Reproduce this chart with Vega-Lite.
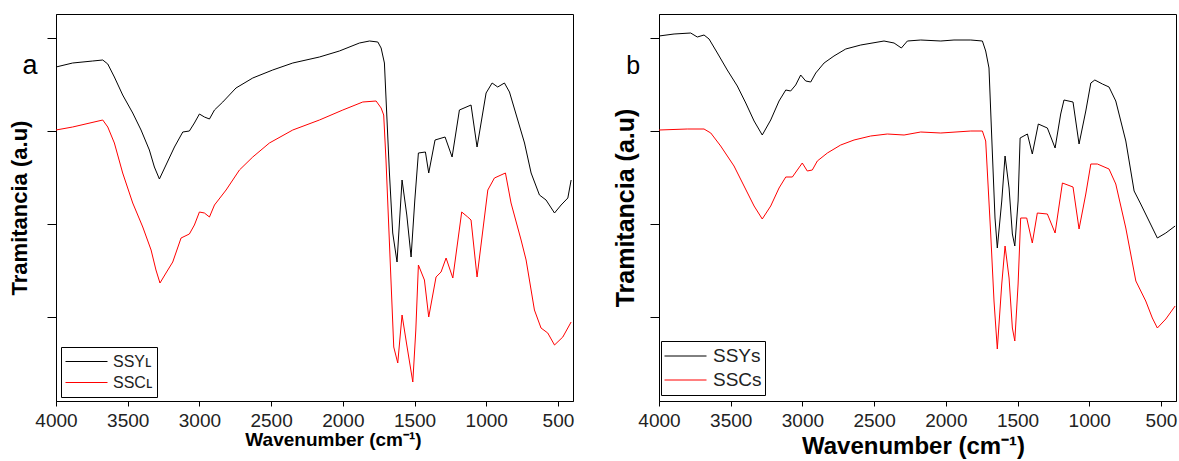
{
  "$schema": "https://vega.github.io/schema/vega-lite/v6.json",
  "padding": {"left": 8, "top": 13, "right": 0, "bottom": 0},
  "spacing": 38,
  "config": {
    "font": "Liberation Sans",
    "view": {"stroke": "black", "strokeWidth": 1},
    "axis": {"grid": false, "domainColor": "black", "tickColor": "black", "labelFont": "Liberation Sans", "titleFont": "Liberation Sans", "titleFontWeight": "bold", "titleColor": "black", "labelColor": "#222222"}
  },
  "datasets": {
    "a": [
      {"w":4000,"t":334,"s":"SSYʟ"},{"w":3884,"t":338,"s":"SSYʟ"},{"w":3744,"t":340,"s":"SSYʟ"},{"w":3674,"t":341,"s":"SSYʟ"},{"w":3639,"t":337,"s":"SSYʟ"},{"w":3593,"t":324,"s":"SSYʟ"},{"w":3535,"t":306,"s":"SSYʟ"},{"w":3465,"t":288,"s":"SSYʟ"},{"w":3407,"t":271,"s":"SSYʟ"},{"w":3349,"t":251,"s":"SSYʟ"},{"w":3314,"t":234,"s":"SSYʟ"},{"w":3279,"t":222,"s":"SSYʟ"},{"w":3233,"t":236,"s":"SSYʟ"},{"w":3174,"t":254,"s":"SSYʟ"},{"w":3116,"t":269,"s":"SSYʟ"},{"w":3070,"t":270,"s":"SSYʟ"},{"w":3035,"t":278,"s":"SSYʟ"},{"w":3000,"t":287,"s":"SSYʟ"},{"w":2965,"t":284,"s":"SSYʟ"},{"w":2930,"t":282,"s":"SSYʟ"},{"w":2895,"t":291,"s":"SSYʟ"},{"w":2837,"t":299,"s":"SSYʟ"},{"w":2745,"t":313,"s":"SSYʟ"},{"w":2628,"t":323,"s":"SSYʟ"},{"w":2489,"t":331,"s":"SSYʟ"},{"w":2349,"t":338,"s":"SSYʟ"},{"w":2163,"t":344,"s":"SSYʟ"},{"w":2024,"t":350,"s":"SSYʟ"},{"w":1884,"t":358,"s":"SSYʟ"},{"w":1814,"t":360,"s":"SSYʟ"},{"w":1756,"t":359,"s":"SSYʟ"},{"w":1733,"t":353,"s":"SSYʟ"},{"w":1710,"t":338,"s":"SSYʟ"},{"w":1675,"t":228,"s":"SSYʟ"},{"w":1652,"t":168,"s":"SSYʟ"},{"w":1622,"t":139,"s":"SSYʟ"},{"w":1587,"t":221,"s":"SSYʟ"},{"w":1554,"t":186,"s":"SSYʟ"},{"w":1524,"t":144,"s":"SSYʟ"},{"w":1498,"t":201,"s":"SSYʟ"},{"w":1473,"t":248,"s":"SSYʟ"},{"w":1424,"t":249,"s":"SSYʟ"},{"w":1401,"t":228,"s":"SSYʟ"},{"w":1357,"t":261,"s":"SSYʟ"},{"w":1287,"t":264,"s":"SSYʟ"},{"w":1238,"t":244,"s":"SSYʟ"},{"w":1187,"t":291,"s":"SSYʟ"},{"w":1106,"t":296,"s":"SSYʟ"},{"w":1064,"t":254,"s":"SSYʟ"},{"w":1001,"t":308,"s":"SSYʟ"},{"w":959,"t":318,"s":"SSYʟ"},{"w":920,"t":314,"s":"SSYʟ"},{"w":873,"t":318,"s":"SSYʟ"},{"w":838,"t":309,"s":"SSYʟ"},{"w":733,"t":258,"s":"SSYʟ"},{"w":687,"t":228,"s":"SSYʟ"},{"w":629,"t":206,"s":"SSYʟ"},{"w":583,"t":201,"s":"SSYʟ"},{"w":524,"t":188,"s":"SSYʟ"},{"w":478,"t":196,"s":"SSYʟ"},{"w":431,"t":203,"s":"SSYʟ"},{"w":408,"t":221,"s":"SSYʟ"},
      {"w":4000,"t":271,"s":"SSCʟ"},{"w":3884,"t":274,"s":"SSCʟ"},{"w":3674,"t":281,"s":"SSCʟ"},{"w":3639,"t":274,"s":"SSCʟ"},{"w":3593,"t":258,"s":"SSCʟ"},{"w":3535,"t":228,"s":"SSCʟ"},{"w":3465,"t":198,"s":"SSCʟ"},{"w":3395,"t":174,"s":"SSCʟ"},{"w":3337,"t":151,"s":"SSCʟ"},{"w":3303,"t":131,"s":"SSCʟ"},{"w":3275,"t":118,"s":"SSCʟ"},{"w":3233,"t":128,"s":"SSCʟ"},{"w":3186,"t":139,"s":"SSCʟ"},{"w":3128,"t":163,"s":"SSCʟ"},{"w":3070,"t":167,"s":"SSCʟ"},{"w":3035,"t":176,"s":"SSCʟ"},{"w":3000,"t":189,"s":"SSCʟ"},{"w":2965,"t":188,"s":"SSCʟ"},{"w":2930,"t":184,"s":"SSCʟ"},{"w":2895,"t":196,"s":"SSCʟ"},{"w":2814,"t":211,"s":"SSCʟ"},{"w":2721,"t":231,"s":"SSCʟ"},{"w":2628,"t":244,"s":"SSCʟ"},{"w":2512,"t":258,"s":"SSCʟ"},{"w":2349,"t":271,"s":"SSCʟ"},{"w":2163,"t":281,"s":"SSCʟ"},{"w":2000,"t":291,"s":"SSCʟ"},{"w":1861,"t":299,"s":"SSCʟ"},{"w":1768,"t":300,"s":"SSCʟ"},{"w":1733,"t":293,"s":"SSCʟ"},{"w":1715,"t":286,"s":"SSCʟ"},{"w":1699,"t":241,"s":"SSCʟ"},{"w":1668,"t":134,"s":"SSCʟ"},{"w":1645,"t":54,"s":"SSCʟ"},{"w":1617,"t":38,"s":"SSCʟ"},{"w":1587,"t":86,"s":"SSCʟ"},{"w":1554,"t":56,"s":"SSCʟ"},{"w":1512,"t":19,"s":"SSCʟ"},{"w":1491,"t":71,"s":"SSCʟ"},{"w":1473,"t":136,"s":"SSCʟ"},{"w":1431,"t":121,"s":"SSCʟ"},{"w":1401,"t":84,"s":"SSCʟ"},{"w":1350,"t":124,"s":"SSCʟ"},{"w":1315,"t":129,"s":"SSCʟ"},{"w":1280,"t":143,"s":"SSCʟ"},{"w":1233,"t":123,"s":"SSCʟ"},{"w":1171,"t":189,"s":"SSCʟ"},{"w":1129,"t":184,"s":"SSCʟ"},{"w":1106,"t":181,"s":"SSCʟ"},{"w":1064,"t":124,"s":"SSCʟ"},{"w":989,"t":211,"s":"SSCʟ"},{"w":943,"t":223,"s":"SSCʟ"},{"w":866,"t":228,"s":"SSCʟ"},{"w":827,"t":198,"s":"SSCʟ"},{"w":757,"t":161,"s":"SSCʟ"},{"w":722,"t":141,"s":"SSCʟ"},{"w":664,"t":91,"s":"SSCʟ"},{"w":618,"t":73,"s":"SSCʟ"},{"w":571,"t":68,"s":"SSCʟ"},{"w":524,"t":56,"s":"SSCʟ"},{"w":466,"t":64,"s":"SSCʟ"},{"w":408,"t":79,"s":"SSCʟ"}
    ],
    "b": [
      {"w":4000,"t":365,"s":"SSYs"},{"w":3895,"t":367,"s":"SSYs"},{"w":3779,"t":368,"s":"SSYs"},{"w":3733,"t":364,"s":"SSYs"},{"w":3686,"t":366,"s":"SSYs"},{"w":3651,"t":362,"s":"SSYs"},{"w":3593,"t":348,"s":"SSYs"},{"w":3524,"t":331,"s":"SSYs"},{"w":3454,"t":315,"s":"SSYs"},{"w":3395,"t":298,"s":"SSYs"},{"w":3337,"t":280,"s":"SSYs"},{"w":3280,"t":266,"s":"SSYs"},{"w":3221,"t":281,"s":"SSYs"},{"w":3163,"t":300,"s":"SSYs"},{"w":3116,"t":311,"s":"SSYs"},{"w":3082,"t":310,"s":"SSYs"},{"w":3047,"t":316,"s":"SSYs"},{"w":3012,"t":326,"s":"SSYs"},{"w":2977,"t":320,"s":"SSYs"},{"w":2942,"t":319,"s":"SSYs"},{"w":2907,"t":328,"s":"SSYs"},{"w":2849,"t":338,"s":"SSYs"},{"w":2780,"t":345,"s":"SSYs"},{"w":2698,"t":352,"s":"SSYs"},{"w":2593,"t":356,"s":"SSYs"},{"w":2431,"t":360,"s":"SSYs"},{"w":2361,"t":358,"s":"SSYs"},{"w":2310,"t":353,"s":"SSYs"},{"w":2268,"t":360,"s":"SSYs"},{"w":2175,"t":361,"s":"SSYs"},{"w":2035,"t":360,"s":"SSYs"},{"w":1943,"t":361,"s":"SSYs"},{"w":1826,"t":361,"s":"SSYs"},{"w":1745,"t":360,"s":"SSYs"},{"w":1722,"t":350,"s":"SSYs"},{"w":1699,"t":333,"s":"SSYs"},{"w":1676,"t":250,"s":"SSYs"},{"w":1657,"t":183,"s":"SSYs"},{"w":1641,"t":153,"s":"SSYs"},{"w":1610,"t":200,"s":"SSYs"},{"w":1587,"t":245,"s":"SSYs"},{"w":1559,"t":213,"s":"SSYs"},{"w":1536,"t":167,"s":"SSYs"},{"w":1519,"t":155,"s":"SSYs"},{"w":1496,"t":200,"s":"SSYs"},{"w":1482,"t":263,"s":"SSYs"},{"w":1431,"t":267,"s":"SSYs"},{"w":1397,"t":247,"s":"SSYs"},{"w":1355,"t":277,"s":"SSYs"},{"w":1292,"t":273,"s":"SSYs"},{"w":1238,"t":253,"s":"SSYs"},{"w":1199,"t":287,"s":"SSYs"},{"w":1176,"t":301,"s":"SSYs"},{"w":1113,"t":299,"s":"SSYs"},{"w":1071,"t":257,"s":"SSYs"},{"w":1024,"t":290,"s":"SSYs"},{"w":989,"t":318,"s":"SSYs"},{"w":961,"t":321,"s":"SSYs"},{"w":908,"t":317,"s":"SSYs"},{"w":862,"t":314,"s":"SSYs"},{"w":815,"t":300,"s":"SSYs"},{"w":745,"t":260,"s":"SSYs"},{"w":687,"t":210,"s":"SSYs"},{"w":641,"t":197,"s":"SSYs"},{"w":583,"t":180,"s":"SSYs"},{"w":525,"t":163,"s":"SSYs"},{"w":466,"t":168,"s":"SSYs"},{"w":401,"t":175,"s":"SSYs"},
      {"w":4000,"t":271,"s":"SSCs"},{"w":3803,"t":272,"s":"SSCs"},{"w":3686,"t":272,"s":"SSCs"},{"w":3639,"t":268,"s":"SSCs"},{"w":3570,"t":255,"s":"SSCs"},{"w":3477,"t":235,"s":"SSCs"},{"w":3407,"t":215,"s":"SSCs"},{"w":3337,"t":195,"s":"SSCs"},{"w":3280,"t":182,"s":"SSCs"},{"w":3221,"t":195,"s":"SSCs"},{"w":3163,"t":213,"s":"SSCs"},{"w":3116,"t":224,"s":"SSCs"},{"w":3070,"t":224,"s":"SSCs"},{"w":3001,"t":238,"s":"SSCs"},{"w":2966,"t":230,"s":"SSCs"},{"w":2931,"t":231,"s":"SSCs"},{"w":2896,"t":240,"s":"SSCs"},{"w":2826,"t":248,"s":"SSCs"},{"w":2733,"t":256,"s":"SSCs"},{"w":2640,"t":261,"s":"SSCs"},{"w":2524,"t":265,"s":"SSCs"},{"w":2408,"t":267,"s":"SSCs"},{"w":2291,"t":266,"s":"SSCs"},{"w":2175,"t":269,"s":"SSCs"},{"w":2035,"t":268,"s":"SSCs"},{"w":1826,"t":270,"s":"SSCs"},{"w":1745,"t":270,"s":"SSCs"},{"w":1722,"t":260,"s":"SSCs"},{"w":1687,"t":167,"s":"SSCs"},{"w":1664,"t":100,"s":"SSCs"},{"w":1641,"t":52,"s":"SSCs"},{"w":1610,"t":117,"s":"SSCs"},{"w":1587,"t":155,"s":"SSCs"},{"w":1559,"t":123,"s":"SSCs"},{"w":1536,"t":73,"s":"SSCs"},{"w":1519,"t":60,"s":"SSCs"},{"w":1496,"t":117,"s":"SSCs"},{"w":1478,"t":183,"s":"SSCs"},{"w":1436,"t":183,"s":"SSCs"},{"w":1397,"t":158,"s":"SSCs"},{"w":1362,"t":188,"s":"SSCs"},{"w":1292,"t":187,"s":"SSCs"},{"w":1238,"t":168,"s":"SSCs"},{"w":1187,"t":218,"s":"SSCs"},{"w":1113,"t":214,"s":"SSCs"},{"w":1071,"t":172,"s":"SSCs"},{"w":1024,"t":207,"s":"SSCs"},{"w":989,"t":237,"s":"SSCs"},{"w":943,"t":237,"s":"SSCs"},{"w":862,"t":232,"s":"SSCs"},{"w":815,"t":217,"s":"SSCs"},{"w":745,"t":173,"s":"SSCs"},{"w":675,"t":120,"s":"SSCs"},{"w":606,"t":100,"s":"SSCs"},{"w":560,"t":83,"s":"SSCs"},{"w":525,"t":73,"s":"SSCs"},{"w":466,"t":82,"s":"SSCs"},{"w":401,"t":95,"s":"SSCs"}
    ],
    "labA": [{"w": 4181, "t": 327, "lab": "a"}],
    "labB": [{"w": 4180, "t": 327, "lab": "b"}]
  },
  "hconcat": [
    {
      "width": 517, "height": 387,
      "layer": [
        {
          "data": {"name": "a"},
          "mark": {"type": "line", "strokeWidth": 1, "clip": true},
          "encoding": {
            "x": {"field": "w", "type": "quantitative", "scale": {"domain": [395, 4000], "reverse": true, "nice": false, "zero": false},
                  "axis": {"title": "Wavenumber (cm⁻¹)", "values": [4000,3750,3500,3250,3000,2750,2500,2250,2000,1750,1500,1250,1000,750,500], "format": "d", "labelExpr": "datum.value % 500 === 0 ? datum.label : ''", "tickSize": 5, "labelFontSize": 19, "labelPadding": 5, "labelFlush": false, "labelOverlap": false, "titleFontSize": 19, "titlePadding": 0, "titleX": 277}},
            "y": {"field": "t", "type": "quantitative", "scale": {"domain": [0, 387], "nice": false, "zero": false},
                  "axis": {"title": "Tramitancia (a.u)", "values": [84,177,270,363], "labels": false, "tickSize": 9, "titleFontSize": 22, "titlePadding": 15}},
            "color": {"field": "s", "type": "nominal", "scale": {"domain": ["SSYʟ","SSCʟ"], "range": ["#000000","#ff0000"]},
                      "legend": {"title": null, "orient": "none", "legendX": 5, "legendY": 333, "strokeColor": "black", "fillColor": "white", "padding": 4, "symbolType": "stroke", "symbolSize": 1764, "symbolStrokeWidth": 1, "clipHeight": 21, "rowPadding": 0, "labelFontSize": 16, "labelOffset": 5, "labelFont": "Liberation Sans", "labelColor": "#222222"}}
          }
        },
        {
          "data": {"name": "labA"},
          "mark": {"type": "text", "fontSize": 27, "clip": false, "align": "center", "baseline": "alphabetic", "font": "Liberation Sans", "color": "black"},
          "encoding": {
            "x": {"field": "w", "type": "quantitative"},
            "y": {"field": "t", "type": "quantitative"},
            "text": {"field": "lab"}
          }
        }
      ]
    },
    {
      "width": 517, "height": 387,
      "layer": [
        {
          "data": {"name": "b"},
          "mark": {"type": "line", "strokeWidth": 1, "clip": true},
          "encoding": {
            "x": {"field": "w", "type": "quantitative", "scale": {"domain": [395, 4000], "reverse": true, "nice": false, "zero": false},
                  "axis": {"title": "Wavenumber (cm⁻¹)", "values": [4000,3750,3500,3250,3000,2750,2500,2250,2000,1750,1500,1250,1000,750,500], "format": "d", "labelExpr": "datum.value % 500 === 0 ? datum.label : ''", "tickSize": 5, "labelFontSize": 19, "labelPadding": 5, "labelFlush": false, "labelOverlap": false, "titleFontSize": 24, "titlePadding": 4, "titleX": 254}},
            "y": {"field": "t", "type": "quantitative", "scale": {"domain": [0, 387], "nice": false, "zero": false},
                  "axis": {"title": "Tramitancia (a.u)", "values": [84,177,270,363], "labels": false, "tickSize": 9, "titleFontSize": 25, "titlePadding": 11}},
            "color": {"field": "s", "type": "nominal", "scale": {"domain": ["SSYs","SSCs"], "range": ["#000000","#ff0000"]},
                      "legend": {"title": null, "orient": "none", "legendX": 2, "legendY": 327, "strokeColor": "black", "fillColor": "white", "padding": 3, "symbolType": "stroke", "symbolSize": 1764, "symbolStrokeWidth": 1, "clipHeight": 24, "rowPadding": 0, "labelFontSize": 19, "labelOffset": 6, "labelFont": "Liberation Sans", "labelColor": "#222222"}}
          }
        },
        {
          "data": {"name": "labB"},
          "mark": {"type": "text", "fontSize": 25, "clip": false, "align": "center", "baseline": "alphabetic", "font": "Liberation Sans", "color": "black"},
          "encoding": {
            "x": {"field": "w", "type": "quantitative"},
            "y": {"field": "t", "type": "quantitative"},
            "text": {"field": "lab"}
          }
        }
      ]
    }
  ],
  "resolve": {"scale": {"color": "independent", "x": "independent", "y": "independent"}, "legend": {"color": "independent"}}
}
